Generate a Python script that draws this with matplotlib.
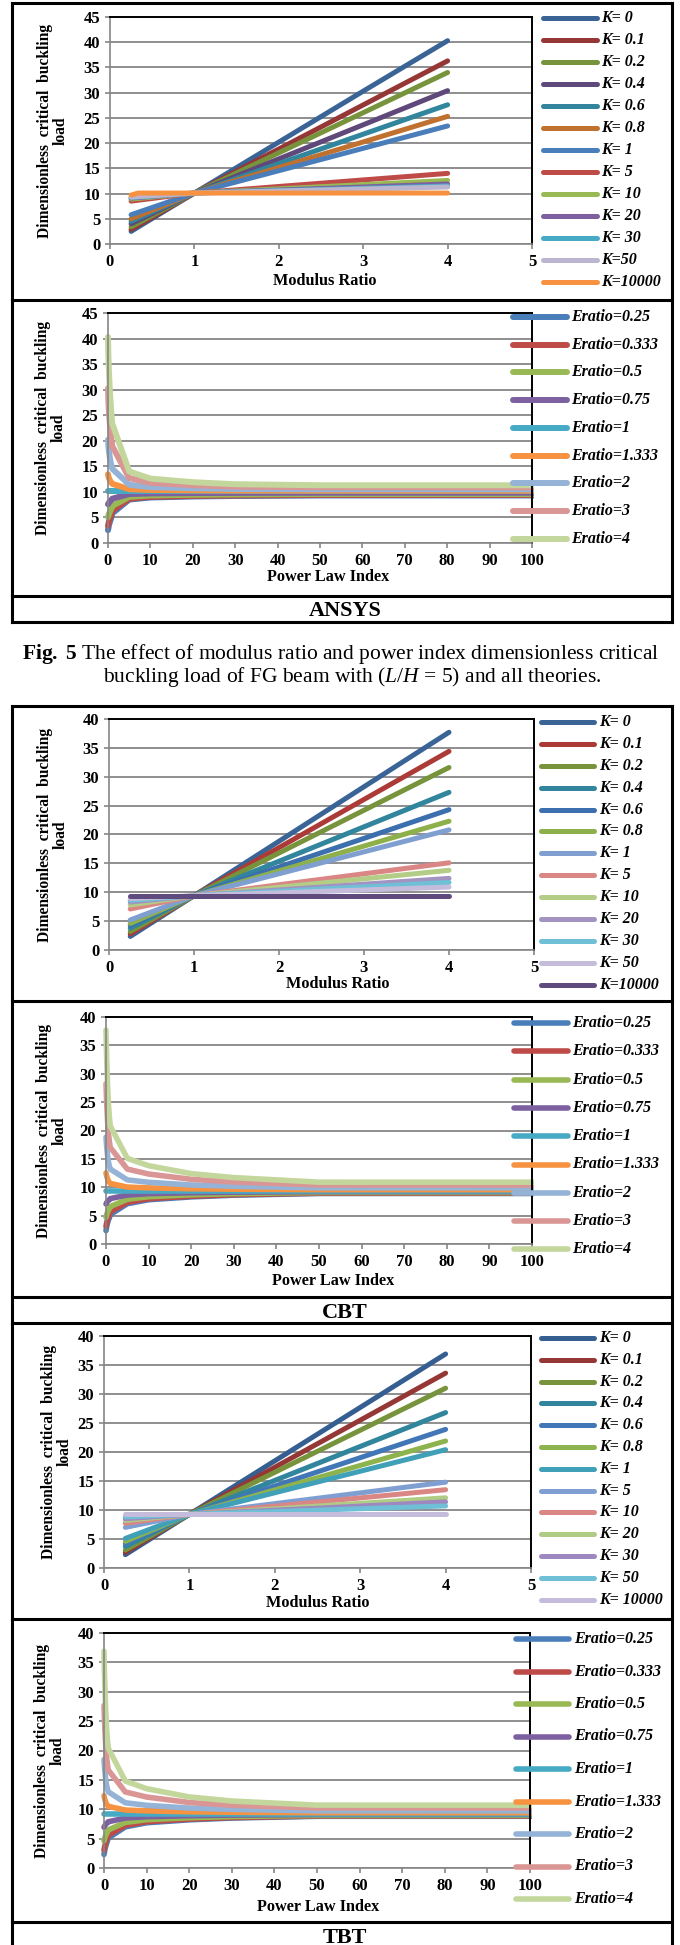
import matplotlib.pyplot as plt
from matplotlib.lines import Line2D
from matplotlib.transforms import Bbox, TransformedBbox

plt.rcParams['font.family'] = ['Liberation Serif', 'DejaVu Serif']
plt.rcParams['mathtext.fontset'] = 'custom'
plt.rcParams['mathtext.rm'] = 'Liberation Serif'
plt.rcParams['mathtext.it'] = 'Liberation Serif:italic'
plt.rcParams['mathtext.bf'] = 'Liberation Serif:bold'

# power law index K (rows) and modulus ratio (columns)
k_values = [0, 0.1, 0.2, 0.4, 0.6, 0.8, 1, 5, 10, 20, 30, 50, 10000]
e_ratios = [0.25, 0.333, 0.5, 0.75, 1, 1.333, 2, 3, 4]

ansys = [
    [2.50, 3.36, 5.05, 7.58, 10.10, 13.46, 20.20, 30.30, 40.30],
    [2.90, 3.70, 5.30, 7.70, 10.10, 13.00, 18.83, 27.57, 36.30],
    [3.40, 4.14, 5.63, 7.87, 10.10, 12.75, 18.07, 26.03, 34.00],
    [4.00, 4.68, 6.03, 8.07, 10.10, 12.35, 16.87, 23.63, 30.40],
    [4.50, 5.12, 6.37, 8.23, 10.10, 12.04, 15.93, 21.77, 27.60],
    [5.00, 5.56, 6.70, 8.40, 10.10, 11.79, 15.17, 20.23, 25.30],
    [5.80, 6.28, 7.23, 8.67, 10.10, 11.58, 14.53, 18.97, 23.40],
    [8.50, 8.68, 9.03, 9.57, 10.10, 10.53, 11.40, 12.70, 14.00],
    [8.90, 9.03, 9.30, 9.70, 10.10, 10.38, 10.93, 11.77, 12.60],
    [9.10, 9.21, 9.43, 9.77, 10.10, 10.30, 10.70, 11.30, 11.90],
    [9.20, 9.30, 9.50, 9.80, 10.10, 10.26, 10.57, 11.03, 11.50],
    [9.30, 9.39, 9.57, 9.83, 10.10, 10.23, 10.50, 10.90, 11.30],
    [9.70, 10.10, 10.10, 10.10, 10.10, 10.10, 10.10, 10.10, 10.10],
]

cbt = [
    [2.35, 3.13, 4.70, 7.05, 9.40, 12.54, 18.83, 28.27, 37.70],
    [2.80, 3.53, 5.00, 7.20, 9.40, 12.18, 17.73, 26.07, 34.40],
    [3.20, 3.89, 5.27, 7.33, 9.40, 11.86, 16.80, 24.20, 31.60],
    [3.80, 4.42, 5.67, 7.53, 9.40, 11.39, 15.37, 21.33, 27.30],
    [4.30, 4.86, 6.00, 7.70, 9.40, 11.05, 14.37, 19.33, 24.30],
    [4.60, 5.13, 6.20, 7.80, 9.40, 10.83, 13.70, 18.00, 22.30],
    [5.20, 5.66, 6.60, 8.00, 9.40, 10.67, 13.20, 17.00, 20.80],
    [7.10, 7.35, 7.87, 8.63, 9.40, 10.03, 11.30, 13.20, 15.10],
    [7.80, 7.98, 8.33, 8.87, 9.40, 9.89, 10.87, 12.33, 13.80],
    [8.30, 8.42, 8.67, 9.03, 9.40, 9.73, 10.40, 11.40, 12.40],
    [8.60, 8.69, 8.87, 9.13, 9.40, 9.66, 10.17, 10.93, 11.70],
    [8.90, 8.96, 9.07, 9.23, 9.40, 9.57, 9.90, 10.40, 10.90],
    [9.40, 9.40, 9.40, 9.40, 9.40, 9.40, 9.40, 9.40, 9.40],
]

tbt = [
    [2.30, 3.07, 4.62, 6.93, 9.25, 12.32, 18.47, 27.68, 36.90],
    [2.70, 3.43, 4.88, 7.07, 9.25, 11.95, 17.37, 25.48, 33.60],
    [3.10, 3.78, 5.15, 7.20, 9.25, 11.66, 16.50, 23.75, 31.00],
    [3.70, 4.31, 5.55, 7.40, 9.25, 11.20, 15.10, 20.95, 26.80],
    [4.20, 4.76, 5.88, 7.57, 9.25, 10.88, 14.13, 19.02, 23.90],
    [4.60, 5.11, 6.15, 7.70, 9.25, 10.65, 13.47, 17.68, 21.90],
    [5.10, 5.56, 6.48, 7.87, 9.25, 10.49, 12.97, 16.68, 20.40],
    [7.00, 7.25, 7.75, 8.50, 9.25, 9.87, 11.10, 12.95, 14.80],
    [7.70, 7.87, 8.22, 8.73, 9.25, 9.72, 10.67, 12.08, 13.50],
    [8.20, 8.32, 8.55, 8.90, 9.25, 9.57, 10.20, 11.15, 12.10],
    [8.50, 8.58, 8.75, 9.00, 9.25, 9.49, 9.97, 10.68, 11.40],
    [8.80, 8.85, 8.95, 9.10, 9.25, 9.41, 9.73, 10.22, 10.70],
    [9.25, 9.25, 9.25, 9.25, 9.25, 9.25, 9.25, 9.25, 9.25],
]

ansys_k_labels = ['K= 0', 'K= 0.1', 'K= 0.2', 'K= 0.4', 'K= 0.6', 'K= 0.8', 'K= 1',
                  'K= 5', 'K= 10', 'K= 20', 'K= 30', 'K=50', 'K=10000']
cbt_k_labels = ['K= 0', 'K= 0.1', 'K= 0.2', 'K= 0.4', 'K= 0.6', 'K= 0.8', 'K= 1',
                'K= 5', 'K= 10', 'K= 20', 'K= 30', 'K= 50', 'K=10000']
tbt_k_labels = ['K= 0', 'K= 0.1', 'K= 0.2', 'K= 0.4', 'K= 0.6', 'K= 0.8', 'K= 1',
                'K= 5', 'K= 10', 'K= 20', 'K= 30', 'K= 50', 'K= 10000']
eratio_labels = ['Eratio=0.25', 'Eratio=0.333', 'Eratio=0.5', 'Eratio=0.75', 'Eratio=1',
                 'Eratio=1.333', 'Eratio=2', 'Eratio=3', 'Eratio=4']

ansys_k_colors = ['#3A6496', '#953735', '#77933C', '#5F497A', '#31859C', '#C0712F', '#4A7EBB',
                  '#BE4B48', '#98B954', '#7D60A0', '#46AAC5', '#BCB5D0', '#F69240']
cbt_k_colors = ['#3A6496', '#AC3B38', '#77933C', '#31859C', '#3C6FAE', '#8DB04B', '#7F9FD0',
                '#D98684', '#B3CD86', '#A293C1', '#6FBFD7', '#C4BCDA', '#5F4B7D']
tbt_k_colors = ['#365F91', '#953735', '#77933C', '#31859C', '#4177B6', '#8DB34F', '#3FA0B7',
                '#7F9FD2', '#D98684', '#B0CC84', '#9D89BF', '#6FBFD7', '#C4BCDA']
eratio_colors = ['#4A7EBB', '#BE4B48', '#98B954', '#7D60A0', '#46AAC5', '#F69240',
                 '#95B3D7', '#D99694', '#C3D69B']

W, H = 680, 1945
fig = plt.figure(figsize=(W / 100, H / 100), dpi=100)


def fx(x):
    return x / W


def fy(y):
    return 1 - y / H


def hline(x0, x1, y, lw=2.2, color='black'):
    fig.add_artist(Line2D([fx(x0), fx(x1)], [fy(y), fy(y)], transform=fig.transFigure,
                          color=color, lw=lw, solid_capstyle='projecting'))


def vline(x, y0, y1, lw=2.2, color='black'):
    fig.add_artist(Line2D([fx(x), fx(x)], [fy(y0), fy(y1)], transform=fig.transFigure,
                          color=color, lw=lw, solid_capstyle='projecting'))


def panel(box, table, modulus, ymax, colors, labels, lw, leg, ylab_x, xlab_pos):
    l, t, r, b = box
    ax = fig.add_axes([fx(l), fy(b), (r - l) / W, (b - t) / H])
    clip = TransformedBbox(Bbox([[-0.02, -0.02], [1.004, 1.02]]), ax.transAxes)

    if modulus:
        for row, c in zip(table, colors):
            ln, = ax.plot(e_ratios, row, color=c, lw=lw, solid_capstyle='round')
            ln.set_clip_box(clip)
        ax.set_xlim(0, 5)
        xt = list(range(0, 6))
        xlabel = 'Modulus Ratio'
    else:
        for j, c in enumerate(colors):
            col = [row[j] for row in table]
            ln, = ax.plot(k_values, col, color=c, lw=lw, solid_capstyle='round')
            ln.set_clip_box(clip)
        ax.set_xlim(0, 100)
        xt = list(range(0, 101, 10))
        xlabel = 'Power Law Index'

    ax.set_ylim(0, ymax)
    yt = list(range(0, ymax + 1, 5))
    ax.set_yticks(yt, [str(v) for v in yt], fontweight='bold', fontsize=12)
    ax.set_xticks(xt, [str(v) for v in xt], fontweight='bold', fontsize=12)
    ax.tick_params(direction='out', length=3.5, width=1.2, color='#868686', pad=3.5)
    ax.yaxis.grid(True, color='#868686', lw=1.3)
    ax.set_axisbelow(True)
    for s in ('top', 'right'):
        ax.spines[s].set_color('black')
        ax.spines[s].set_linewidth(1.4)
    for s in ('left', 'bottom'):
        ax.spines[s].set_color('#868686')
        ax.spines[s].set_linewidth(1.2)

    fig.text(fx(ylab_x), fy((t + b) / 2), 'Dimensionless  critical  buckling\nload',
             rotation=90, ha='center', va='center', multialignment='center',
             fontsize=11.2, fontweight='bold', linespacing=1.0)
    fig.text(fx(xlab_pos[0]), fy(xlab_pos[1]), xlabel, ha='center', va='center',
             fontsize=11.7, fontweight='bold')

    # legend drawn as line samples next to the plot area
    x0, x1, tx, y0, dy = leg
    for i, (c, lab) in enumerate(zip(colors, labels)):
        y = y0 + i * dy
        fig.add_artist(Line2D([fx(x0), fx(x1)], [fy(y), fy(y)], transform=fig.transFigure,
                              color=c, lw=lw, solid_capstyle='round'))
        fig.text(fx(tx), fy(y), lab, ha='left', va='center', fontsize=11.5,
                 fontweight='bold', style='italic')
    return ax


# ANSYS
panel((110, 17, 532, 244), ansys, True, 45, ansys_k_colors, ansys_k_labels, 3.6,
      (543, 597, 601, 18, 22.0), 53, (325, 281))
panel((108, 313, 532, 543), ansys, False, 45, eratio_colors, eratio_labels, 4.3,
      (513, 567, 571, 317, 27.7), 51, (328, 577))

# CBT
panel((109, 719, 534, 950), cbt, True, 40, cbt_k_colors, cbt_k_labels, 3.6,
      (541, 594, 599, 722, 21.9), 53, (338, 984))
panel((106, 1017, 532, 1244), cbt, False, 40, eratio_colors, eratio_labels, 4.0,
      (514, 568, 572, 1023, 28.3), 52, (333, 1281))

# TBT
panel((104, 1336, 531, 1568), tbt, True, 40, tbt_k_colors, tbt_k_labels, 3.6,
      (541, 594, 599, 1338, 21.8), 57, (318, 1603))
panel((104, 1633, 530, 1868), tbt, False, 40, eratio_colors, eratio_labels, 4.0,
      (516, 569, 574, 1639, 32.5), 50, (318, 1907))

# frames around the panels
for y in (3, 300, 596, 622):
    hline(12, 672, y)
vline(12, 3, 622)
vline(672, 3, 622)
for y in (706, 1001, 1297, 1323, 1619, 1922):
    hline(12, 672, y)
vline(12, 706, 1950)
vline(672, 706, 1950)

fig.text(fx(345), fy(616), 'ANSYS', ha='center', va='baseline', fontsize=16, fontweight='bold')
fig.text(fx(345), fy(1318), 'CBT', ha='center', va='baseline', fontsize=16, fontweight='bold')
fig.text(fx(345), fy(1943), 'TBT', ha='center', va='baseline', fontsize=16, fontweight='bold')

fig.text(fx(341), fy(659),
         r'$\mathbf{Fig.\ 5}$ The effect of modulus ratio and power index dimensionless critical',
         ha='center', va='baseline', fontsize=15.5)
fig.text(fx(352), fy(682),
         r'buckling load of FG beam with ($L$/$H$ = 5) and all theories.',
         ha='center', va='baseline', fontsize=15.5)

fig.savefig('out.png', dpi=100)
